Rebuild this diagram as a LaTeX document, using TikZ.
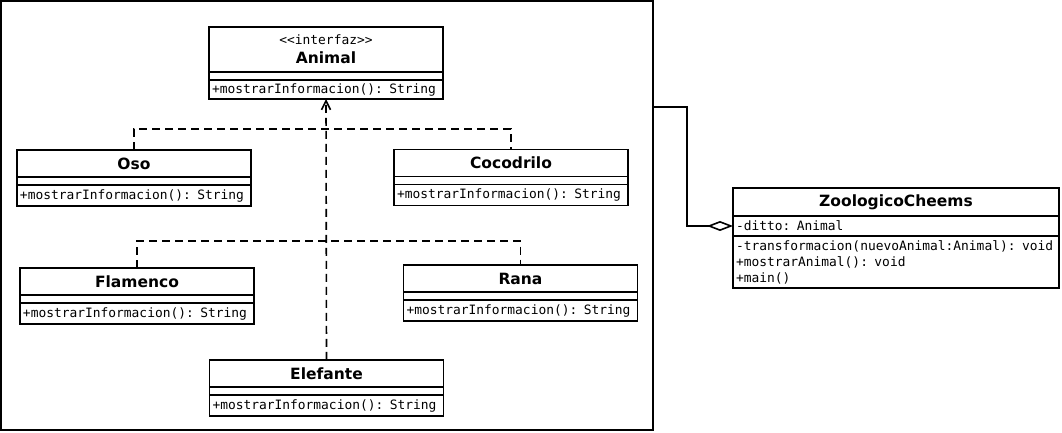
\documentclass[tikz,border=0pt]{standalone}
\usepackage{fontspec}
\usepackage{tikz}
\usetikzlibrary{positioning}
\usetikzlibrary{arrows.meta}
\newfontfamily\mono{DejaVu Sans Mono}
\newfontfamily\sansdv{DejaVu Sans}
\def\fmono{\mono\mdseries\fontsize{12.9bp}{16bp}\selectfont}
\def\fnombre{\sansdv\bfseries\fontsize{15.5bp}{18bp}\selectfont}

\begin{document}
\begin{tikzpicture}[x=1bp, y=-1bp, line width=1.6bp,
    nombre/.style={draw, rectangle, minimum width=234bp, minimum height=27bp, inner sep=0pt, outer sep=0pt, font=\fnombre},
    atributos/.style={draw, rectangle, minimum width=234bp, minimum height=8bp, inner sep=0pt, outer sep=0pt},
    metodos/.style={draw, rectangle, text width=228bp, minimum height=21bp, inner xsep=3bp, inner ysep=0pt, outer sep=0pt, align=left, font=\fmono},
    realiza/.style={dash pattern=on 8bp off 5bp},
    hereda/.style={realiza, -{Straight Barb[length=9bp, width=9bp]}},
    agrega/.style={-{Diamond[open, length=26bp, width=10bp]}}]
    \useasboundingbox (0,0) rectangle (1062,433);
    \node[draw, rectangle, minimum width=652bp, minimum height=429bp, inner sep=0pt, outer sep=0pt, anchor=north west] (marco) at (1,1) {};

    % interfaz
    \node[nombre, minimum height=45bp, align=center] (animal) at (326,49.5) {{\fmono <{}<interfaz>{}>}\\[1bp]Animal};
    \node[atributos, below=0pt of animal] (animala) {};
    \node[metodos, minimum height=19bp, below=0pt of animala] (animalm) {+mostrarInformacion(): String};

    % clases
    \node[nombre] (oso) at (134,163.5) {Oso};
    \node[atributos, below=0pt of oso] (osoa) {};
    \node[metodos, below=0pt of osoa] (osom) {+mostrarInformacion(): String};

    \node[nombre] (cocodrilo) at (511,163) {Cocodrilo};
    \node[atributos, below=0pt of cocodrilo] (cocodriloa) {};
    \node[metodos, below=0pt of cocodriloa] (cocodrilom) {+mostrarInformacion(): String};

    \node[nombre] (flamenco) at (137,281.5) {Flamenco};
    \node[atributos, below=0pt of flamenco] (flamencoa) {};
    \node[metodos, below=0pt of flamencoa] (flamencom) {+mostrarInformacion(): String};

    \node[nombre] (rana) at (520.5,278.5) {Rana};
    \node[atributos, below=0pt of rana] (ranaa) {};
    \node[metodos, below=0pt of ranaa] (ranam) {+mostrarInformacion(): String};

    \node[nombre] (elefante) at (326.5,373.5) {Elefante};
    \node[atributos, below=0pt of elefante] (elefantea) {};
    \node[metodos, below=0pt of elefantea] (elefantem) {+mostrarInformacion(): String};

    % zoologico
    \node[nombre, minimum width=326bp, minimum height=28bp] (zoo) at (896,202) {ZoologicoCheems};
    \node[metodos, text width=320bp, minimum height=20bp, below=0pt of zoo] (zooa) {-ditto: Animal};
    \node[metodos, text width=320bp, minimum height=52bp, below=0pt of zooa] (zoom) {-transformacion(nuevoAnimal:Animal): void\\+mostrarAnimal(): void\\+main()};

    \draw[hereda] (elefante.north) -- (animalm.south);
    \draw[realiza] (oso.north) |- (animalm.south |- 0,129) -| (cocodrilo.north);
    \draw[realiza] (flamenco.north) |- (animalm.south |- 0,241) -| (rana.north);
    \draw[agrega] (marco.east |- 0,107) -| ([xshift=-46bp]zooa.west) -- (zooa.west);
\end{tikzpicture}
\end{document}
